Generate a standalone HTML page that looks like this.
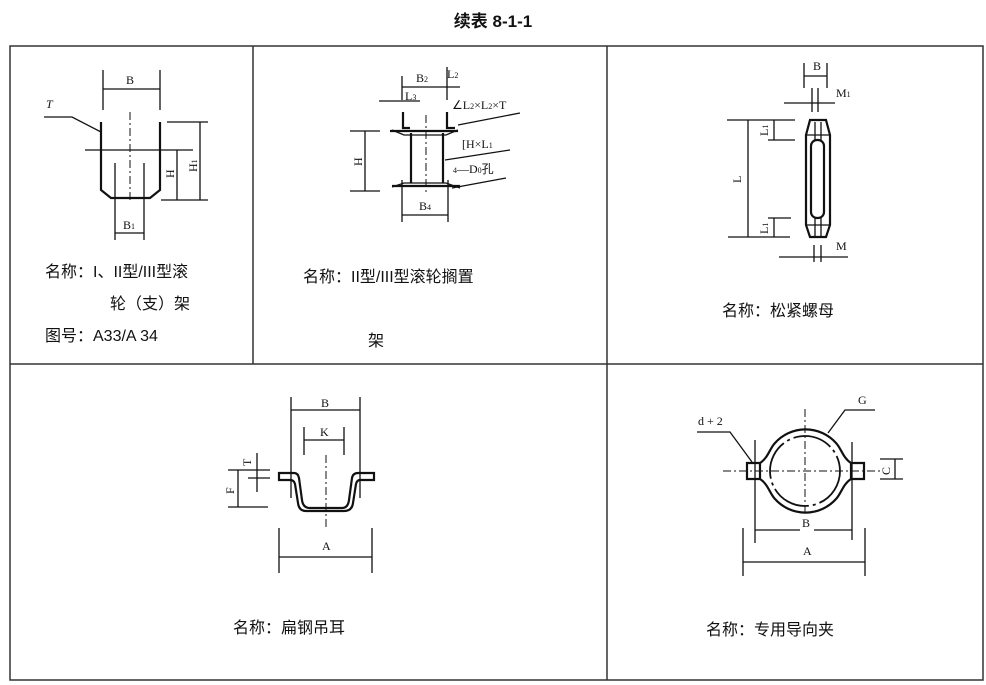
<!DOCTYPE html>
<html><head><meta charset="utf-8"><style>
body{margin:0;background:#fff;}
svg{display:block;font-family:"Liberation Sans","Noto Sans CJK SC",sans-serif;}
.l{stroke:#111;stroke-width:1.3;fill:none}
.t{stroke:#111;stroke-width:2.2;fill:none}
.d{stroke:#111;stroke-width:1;fill:none;stroke-dasharray:8 3 2 3}
.s{font-family:"Liberation Serif",serif;font-size:12px;fill:#111}
.c{font-size:16px;fill:#111}
</style></head><body>
<svg width="986" height="685" viewBox="0 0 986 685">
<text x="493" y="27" text-anchor="middle" font-size="17" font-weight="bold" fill="#111">续表 8-1-1</text>
<g stroke="#333" stroke-width="1.5" fill="none">
<rect x="10" y="46" width="973" height="634"/>
<line x1="10" y1="364" x2="983" y2="364"/>
<line x1="253" y1="46" x2="253" y2="364"/>
<line x1="607" y1="46" x2="607" y2="680"/>
</g>
<!-- drawing 1 -->
<g>
<path class="l" d="M103 70V110M160 70V110M103 89H160"/>
<text class="s" x="126" y="84">B</text>
<text class="s" x="46" y="108" font-style="italic">T</text>
<path class="l" d="M44 117H72L101 132"/>
<path class="t" d="M101 122V190L111 198H150L160 190V122"/>
<path class="l" d="M85 150H193M115 163V240M144 163V240M115 233H144M167 122H208M161 200H208M200 122V200M177 150V200"/>
<path class="d" d="M130 112V200"/>
<text class="s" x="123" y="229">B<tspan font-size="8">1</tspan></text>
<text class="s" transform="translate(174,178) rotate(-90)">H</text>
<text class="s" transform="translate(197,172) rotate(-90)">H<tspan font-size="8">1</tspan></text>
<text class="c" x="45" y="277">名称：I、II型/III型滚</text>
<text class="c" x="110" y="309">轮（支）架</text>
<text class="c" x="45" y="341">图号：A33/A 34</text>
</g>
<!-- drawing 2 -->
<g>
<path class="l" d="M402 76V100M447 67V100M402 87H460M379 101H420M458 125L520 113"/>
<text class="s" x="416" y="82">B<tspan font-size="8">2</tspan></text>
<text class="s" x="447" y="78">L<tspan font-size="8">2</tspan></text>
<text class="s" x="405" y="100">L<tspan font-size="8">3</tspan></text>
<text class="s" x="452" y="109">∠L<tspan font-size="8">2</tspan>×L<tspan font-size="8">2</tspan>×T</text>
<path class="t" d="M403 112V128H410M447 112V128H455"/>
<path class="t" d="M390 131H458M411 133V183M443 133V183M392 186H460"/>
<path class="l" d="M392 130L404 135H446L458 130M392 187L404 183H446L460 188"/>
<path class="d" d="M426 115V195"/>
<path class="l" d="M350 131H380M350 191H380M365 131V191"/>
<text class="s" transform="translate(362,166) rotate(-90)">H</text>
<text class="s" x="462" y="148">[H×L<tspan font-size="8">1</tspan></text>
<path class="l" d="M445 160L510 150M452 188L506 178M402 180V222M448 180V222M402 215H448"/>
<text class="s" x="453" y="173"><tspan font-size="8">4</tspan>—D<tspan font-size="8">0</tspan>孔</text>
<text class="s" x="419" y="210">B<tspan font-size="8">4</tspan></text>
<text class="c" x="303" y="282">名称：II型/III型滚轮搁置</text>
<text class="c" x="368" y="346">架</text>
</g>
<!-- drawing 3 -->
<g>
<path class="l" d="M804 63V88M827 63V88M804 76H827M784 103H835M812 88V112M818 88V112"/>
<text class="s" x="813" y="70">B</text>
<text class="s" x="836" y="97">M<tspan font-size="8">1</tspan></text>
<path class="t" d="M810 120H826L830 135V225L826 237H810L806 225V135Z"/>
<rect class="t" x="811" y="140" width="13" height="78" rx="6"/>
<path class="l" d="M806 135H830M806 225H830M815 122V140M821 122V140M815 218V236M821 218V236"/>
<path class="l" d="M727 120H795M728 237H790M748 120V237M768 140H795M768 218H791M774 120V140M774 218V237"/>
<text class="s" transform="translate(768,136) rotate(-90)">L<tspan font-size="8">1</tspan></text>
<text class="s" transform="translate(768,234) rotate(-90)">L<tspan font-size="8">1</tspan></text>
<text class="s" transform="translate(741,183) rotate(-90)">L</text>
<path class="l" d="M779 257H848M814 245V262M821 245V262"/>
<text class="s" x="836" y="250">M</text>
<text class="c" x="722" y="316">名称：松紧螺母</text>
</g>
<!-- drawing 4 -->
<g>
<path class="l" d="M291 397V498M360 397V498M291 410H360M304 427V455M344 427V455M304 440H344"/>
<text class="s" x="321" y="407">B</text>
<text class="s" x="320" y="436">K</text>
<path class="t" d="M279 473H294Q298 473 299 478L302 500Q303 508 310 508H342Q348 508 349 500L352 478Q353 473 358 473H374V480H360Q357 480 356 484L353 503Q352 511 344 511H306Q299 511 298 503L295 484Q294 480 290 480H279Z"/>
<path class="d" d="M326 455V530"/>
<path class="l" d="M257 453V492M248 470H270M248 478H270M238 470V507M228 470H268M228 507H268M279 528V573M372 528V573M279 557H372"/>
<text class="s" transform="translate(251,466) rotate(-90)">T</text>
<text class="s" transform="translate(234,494) rotate(-90)">F</text>
<text class="s" x="322" y="550">A</text>
<text class="c" x="233" y="633">名称：扁钢吊耳</text>
</g>
<!-- drawing 5 -->
<g>
<path class="t" d="M760 463C768 458 770 448 775 443A41 41 0 0 1 836 443C841 448 843 458 851 463M760 479C768 484 770 494 775 499A41 41 0 0 0 836 499C841 494 843 484 851 479"/>
<path class="t" d="M747 463H760V479H747ZM851 463H864V479H851Z"/>
<circle cx="805" cy="471" r="35" stroke="#111" stroke-width="1.8" fill="none" stroke-dasharray="40 4 3 4"/>
<path class="d" d="M723 471H880M805 409V515"/>
<path class="l" d="M755 440V543M852 442V540M755 530H800M814 530H852M743 528V576M865 528V576M743 562H865M880 459H903M880 479H903M895 459V479"/>
<text class="s" x="802" y="527">B</text>
<text class="s" x="803" y="555">A</text>
<text class="s" transform="translate(890,475) rotate(-90)">C</text>
<text class="s" x="698" y="425">d + 2</text>
<path class="l" d="M697 432H730L752 462M875 410H845L828 433"/>
<text class="s" x="858" y="404">G</text>
<text class="c" x="706" y="635">名称：专用导向夹</text>
</g>
</svg>
</body></html>
